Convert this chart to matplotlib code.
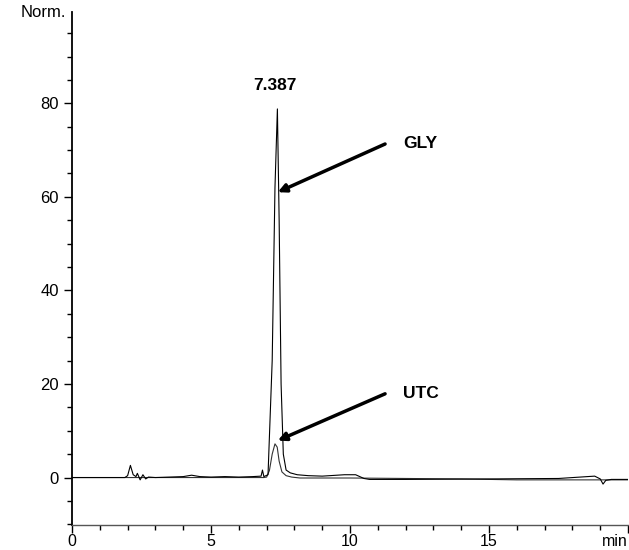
import matplotlib.pyplot as plt
from matplotlib.ticker import MultipleLocator, FixedLocator

plt.rcParams['font.family'] = ['Liberation Sans', 'DejaVu Sans']

# GLY trace (time in min, signal in Norm.)
gly_t = [0.0, 1.9, 2.0, 2.1, 2.2, 2.3, 2.35, 2.45, 2.55, 2.65, 2.75, 3.0, 3.5, 4.0,
         4.3, 4.6, 5.0, 5.5, 6.0, 6.5, 6.8, 6.85, 6.9, 7.05, 7.2, 7.3, 7.387, 7.45,
         7.52, 7.6, 7.7, 7.85, 8.1, 8.5, 9.0, 9.8, 10.2, 10.5, 10.7, 12.0, 15.0,
         17.5, 18.8, 19.0, 19.1, 19.2, 19.4, 20.0]
gly_y = [0.0, 0.0, 0.4, 2.6, 0.6, 0.2, 0.9, -0.5, 0.6, -0.3, 0.1, 0.0, 0.1, 0.2,
         0.5, 0.2, 0.1, 0.2, 0.1, 0.2, 0.3, 1.6, 0.2, 0.6, 25.0, 62.0, 78.8, 55.0,
         20.0, 5.0, 1.6, 1.0, 0.6, 0.4, 0.3, 0.6, 0.6, -0.2, -0.4, -0.4, -0.3,
         -0.2, 0.3, -0.3, -1.4, -0.6, -0.4, -0.4]

# UTC trace
utc_t = [0.0, 6.9, 7.0, 7.1, 7.2, 7.3, 7.38, 7.45, 7.55, 7.7, 7.9, 8.2, 9.0,
         10.0, 14.0, 16.0, 19.0, 20.0]
utc_y = [0.0, 0.0, 0.1, 1.5, 5.0, 7.2, 6.5, 3.5, 1.2, 0.4, 0.1, -0.1, -0.1,
         -0.1, -0.3, -0.5, -0.5, -0.5]

x_ticks = [0, 5, 10, 15, 20]
x_labels = ['0', '5', '10', '15', 'min']
y_ticks = [0, 20, 40, 60, 80]

fig = plt.figure(figsize=(6.29, 5.5), dpi=100)
ax = fig.add_axes([0.1145, 0.045, 0.884, 0.933])

ax.plot(utc_t, utc_y, color='#333333', linewidth=0.8)
ax.plot(gly_t, gly_y, color='black', linewidth=0.8)

ax.set_xlim(0, 20)
ax.set_ylim(-10.2, 99.5)
ax.xaxis.set_major_locator(FixedLocator(x_ticks))
ax.set_xticklabels(x_labels)
ax.get_xticklabels()[-1].set_horizontalalignment('right')
ax.xaxis.set_minor_locator(MultipleLocator(1))
ax.yaxis.set_major_locator(FixedLocator(y_ticks))
ax.yaxis.set_minor_locator(MultipleLocator(5))

for side in ['top', 'right']:
    ax.spines[side].set_visible(False)
ax.spines['left'].set_linewidth(1.3)
ax.spines['bottom'].set_linewidth(1.0)
ax.spines['bottom'].set_color('#555555')

ax.tick_params(axis='both', which='major', length=6, width=1, labelsize=12, direction='out')
ax.tick_params(axis='both', which='minor', length=3.5, width=1, direction='out')
ax.tick_params(axis='x', pad=0, labelsize=11.5)

ax.text(-0.01, 1.0, 'Norm.', transform=ax.transAxes, ha='right', va='center', fontsize=12)

ax.text(7.3, 83.8, '7.387', ha='center', va='center', fontsize=12.5, fontweight='bold')

arrow = dict(arrowstyle='-|>', color='black', lw=2.5, mutation_scale=12, shrinkA=0, shrinkB=0)
ax.annotate('', xy=(7.4, 61.0), xytext=(11.26, 71.3), arrowprops=arrow)
ax.text(11.9, 71.5, 'GLY', ha='left', va='center', fontsize=12.5, fontweight='bold')
ax.annotate('', xy=(7.4, 7.9), xytext=(11.26, 17.9), arrowprops=arrow)
ax.text(11.9, 17.9, 'UTC', ha='left', va='center', fontsize=12.5, fontweight='bold')

fig.savefig('out.png', dpi=100)
